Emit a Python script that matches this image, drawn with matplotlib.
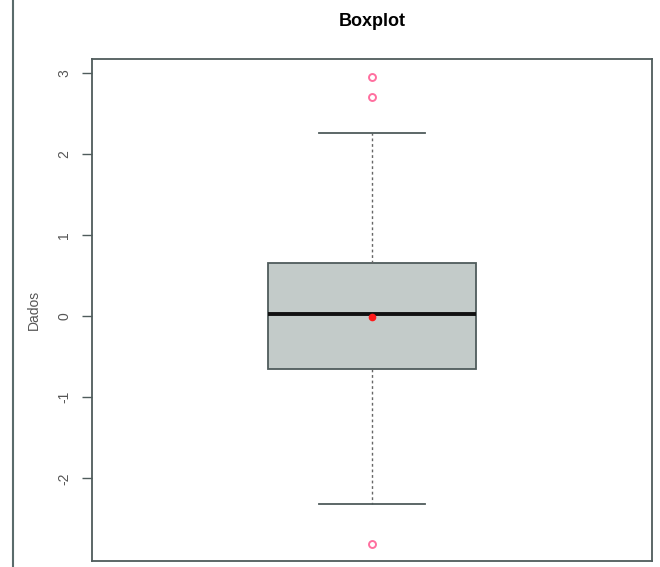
import numpy as np
import matplotlib.pyplot as plt
from matplotlib.lines import Line2D

plt.rcParams['font.family'] = ['Liberation Sans', 'DejaVu Sans']

# estimated boxplot summary
q1 = -0.65
med = 0.03
q3 = 0.66
mean = -0.01
whislo = -2.32
whishi = 2.26
fliers = [2.95, 2.70, -2.81]
yticks = [-2, -1, 0, 1, 2, 3]

fig = plt.figure(figsize=(6.6, 5.67), dpi=100)
ax = fig.add_axes([92/660, 1 - 561/567, 560/660, 502/567])

stats = [dict(q1=q1, med=med, q3=q3, mean=mean, whislo=whislo,
              whishi=whishi, fliers=fliers, label="")]
edge = "#4f5c5c"
ax.bxp(stats, positions=[1], widths=0.373, patch_artist=True, showmeans=True,
       boxprops=dict(facecolor="#c3cbc9", edgecolor=edge, linewidth=1.3),
       medianprops=dict(color="#111111", linewidth=2.8),
       whiskerprops=dict(color="#666666", linestyle=(0, (2, 2)), linewidth=1),
       capprops=dict(color=edge, linewidth=1.3),
       capwidths=0.19,
       flierprops=dict(marker="o", markerfacecolor="none", markeredgecolor="#ff6f9f",
                       markersize=5, markeredgewidth=1.4),
       meanprops=dict(marker="o", markerfacecolor="#ff1a1a", markeredgecolor="#ff1a1a",
                      markersize=4.5))

ax.set_xlim(0.5, 1.5)
ax.set_ylim(-3.02, 3.17)
ax.set_xticks([])
ax.set_yticks(yticks)
ax.set_yticklabels([str(t) for t in yticks], rotation=90, va="center",
                   fontsize=10, color="#555555")
ax.tick_params(axis="y", length=7, width=1, color=edge, pad=8)
for s in ax.spines.values():
    s.set_color(edge)
    s.set_linewidth(1.3)
ax.set_ylabel("Dados", fontsize=10, color="#555555", labelpad=12)
ax.set_title("Boxplot", fontsize=13, fontweight="bold", pad=24)

fig.add_artist(Line2D([13/660, 13/660], [0, 1], color="#5a6b6b", linewidth=1.5))

fig.savefig("out.png", dpi=100)
